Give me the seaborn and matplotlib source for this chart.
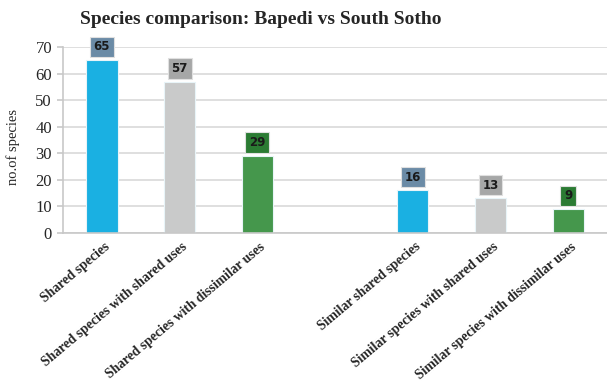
import numpy as np
import pandas as pd
import matplotlib
matplotlib.use("Agg")
import matplotlib.pyplot as plt
import matplotlib.transforms as mtransforms
import seaborn as sns

categories = ["Shared species", "Shared species with shared uses",
              "Shared species with dissimilar uses",
              "Similar shared species", "Similar species with shared uses",
              "Similar species with dissimilar uses"]
values = [65, 57, 29, 16, 13, 9]
order = categories[:3] + [" "] + categories[3:]

bar_colors = ["#1ab0e2", "#c9caca", "#45974c"] * 2
box_colors = ["#6b8ba6", "#a6a7a7", "#2b7b33"] * 2

df = pd.DataFrame({"category": categories, "count": values})

sns.set_style("white")
plt.rcParams["font.family"] = ["Liberation Serif", "DejaVu Serif"]

fig, ax = plt.subplots(figsize=(6.07, 3.82), dpi=100)
fig.subplots_adjust(left=0.104, right=1.0, top=0.877, bottom=0.39)

sns.barplot(data=df, x="category", y="count", order=order, hue="category",
            palette=dict(zip(categories, bar_colors)), width=0.4,
            saturation=1, legend=False, edgecolor="#e8f4f8", linewidth=0.8,
            ax=ax)

ax.set_ylim(0, 70)
ax.set_yticks(range(0, 71, 10))
ax.yaxis.grid(True, color="#d9d9d9", linewidth=1.2)
ax.set_axisbelow(True)
for s in ["top", "right"]:
    ax.spines[s].set_visible(False)
for s in ["left", "bottom"]:
    ax.spines[s].set_color("#c8c8c8")
    ax.spines[s].set_linewidth(1.2)

# data labels in small boxes above bars
for cat, v, bc in zip(categories, values, box_colors):
    x = order.index(cat)
    ax.text(x, v + 5, str(v), ha="center", va="center", fontsize=8.5,
            fontweight="bold", family="DejaVu Sans", color="#1a1a1a",
            bbox=dict(boxstyle="square,pad=0.32", fc=bc, ec="#e0e0e0", lw=0.8))

# rotated category labels, drawn as texts so the offset sticks
ax.set_xticks(range(len(order)))
ax.set_xticklabels([])
ax.tick_params(axis="x", length=0)
shift = mtransforms.ScaledTranslation(6 / 100, -12 / 100, fig.dpi_scale_trans)
for cat in categories:
    ax.text(order.index(cat), 0, cat, rotation=40, ha="right", va="center",
            rotation_mode="anchor", fontsize=9.8, fontweight="bold",
            transform=ax.get_xaxis_transform() + shift)

# minor ticks at slot boundaries
ax.set_xticks(np.arange(-0.5, len(order), 1), minor=True)
ax.tick_params(axis="x", which="minor", length=4, color="#c8c8c8", width=1.2)
ax.tick_params(axis="y", length=4, color="#c8c8c8", width=1.2, labelsize=12,
               pad=4, left=True)
ax.set_xlim(-0.5, len(order) - 0.5)

ax.set_xlabel("")
ax.set_ylabel("no.of species", fontsize=10.5)
ax.yaxis.set_label_coords(-0.079, 0.46)
fig.text(261 / 607, 1 - 19 / 382, "Species comparison: Bapedi vs South Sotho",
         ha="center", va="center", fontsize=14, fontweight="bold")

fig.savefig("out.png", dpi=100)
